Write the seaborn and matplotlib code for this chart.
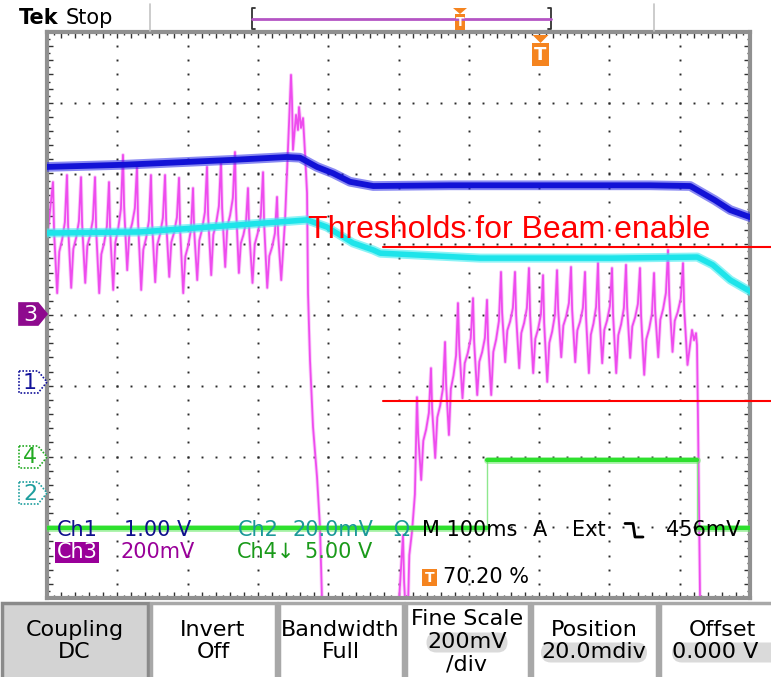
import numpy as np
import pandas as pd
import matplotlib
matplotlib.use("Agg")
import matplotlib.pyplot as plt
import seaborn as sns
from matplotlib.patches import Polygon, Rectangle, FancyBboxPatch
from matplotlib.ticker import FixedLocator

# ---------------- data (time in ms relative to trigger, 100 ms/div, trigger at 70.2 %) ----------------
T_LEFT, T_RIGHT = -702.0, 298.0

# Ch1 (1.00 V/div)
ch1_t = [-702, -594, -437, -361, -342, -318, -295, -271, -238, -129, 14, 156, 213, 227, 248, 270, 298]
ch1_v = [3.04, 3.07, 3.14, 3.18, 3.17, 3.04, 2.95, 2.83, 2.77, 2.78, 2.78, 2.78, 2.77, 2.69, 2.57, 2.43, 2.33]

# Ch2 (20.0 mV/div)
ch2_t = [-702, -570, -428, -332, -304, -267, -238, -228, -86, 103, 223, 245, 270, 298]
ch2_mv = [73.5, 73.8, 75.8, 77.2, 75.2, 70.7, 68.7, 67.8, 66.4, 66.4, 66.7, 64.5, 60.2, 57.0]

# Ch4 (5.00 V/div, inverted)
ch4_t = [-702, -76, -76, 223, 223, 298]
ch4_v = [-5.02, -5.02, -0.21, -0.21, -5.02, -5.02]
ch4_seg = [0, 0, 1, 1, 2, 2]

# Ch3 (200 mV/div): sawtooth ripple read tooth by tooth
m_start_t, m_start_mv = -702, 209
m_left_t = [-693.5, -673.6, -653.6, -633.7, -613.8, -593.9, -574.0, -554.1, -534.1, -514.2,
            -494.3, -474.4, -454.5, -434.6, -416.1, -394.7, -374.8]
m_left_hi = [373, 393, 387, 387, 373, 450, 416, 393, 393, 385, 356, 416, 435, 458, 356, 401, 331]
m_left_lo = [59, 74, 88, 59, 68, 124, 68, 90, 105, 59, 96, 110, 133, 116, 88, 74, 96]

m_spike_t = [-363.4, -359.2, -354.9, -353.5, -352.1, -347.8, -345.0, -343.5, -340.7, -337.8, -335.0,
             -332.1, -330.7, -327.9, -323.6, -317.9, -313.7, -310.8, -308.0, -300.0, -210.0]
m_spike_mv = [266, 472, 676, 605, 464, 563, 520, 585, 526, 554, 455,
              342, 59, -130, -319, -461, -602, -809, -1035, -1100, -1100]

m_right_t = [-195.6, -175.7, -155.8, -135.8, -117.4, -96.0, -76.1, -56.2, -36.3, -16.4, 3.6,
             23.5, 43.4, 63.3, 81.8, 101.7, 121.6, 141.5, 161.5, 181.4, 202.7]
m_right_hi = [-625, -235, -153, -79, 31, 45, 40, 119, 119, 130, 110, 124, 133, 119, 144, 130, 139, 130, 116, 181, 144]
m_right_lo = [-922, -469, -407, -342, -238, -229, -229, -136, -153, -167, -192, -122, -136, -167, -139,
              -167, -124, -172, -122, -107, -144]

m_tail_t = [215.5, 218.4, 221.2, 222.6, 224.0, 226.9, 229.7, 298.0]
m_tail_mv = [-45, -74, -54, -88, -291, -800, -1091, -1100]

# tooth shape (phase within a period, fraction of swing)
tooth_drop_phase = [0.08, 0.30]
tooth_drop_frac = [0.55, 0.0]
tooth_rise_phase = [0.45, 0.65, 0.85]
tooth_rise_frac = [0.35, 0.45, 0.60]

# thresholds for beam enable on Ch3 (mV) and where the marker lines start (ms)
thr_mv = [189, -246]
thr_t0 = -224

# channel settings: scale per div and ground position (div from centre)
ch_scale = {"Ch1": 1.0, "Ch2": 20.0, "Ch3": 200.0, "Ch4": 5.0}
ch_ground = {"Ch1": -0.947, "Ch2": -2.516, "Ch3": 0.014, "Ch4": -2.007}


def to_div(vals, ch):
    return np.asarray(vals, dtype=float) / ch_scale[ch] + ch_ground[ch]


def build_teeth(pt, hi, lo):
    ts, vs = [], []
    n = len(pt)
    for i in range(n):
        p = (pt[i + 1] - pt[i]) if i + 1 < n else (pt[i] - pt[i - 1])
        ts.append(pt[i]); vs.append(hi[i])
        for ph, fr in zip(tooth_drop_phase, tooth_drop_frac):
            ts.append(pt[i] + ph * p); vs.append(lo[i] + fr * (hi[i] - lo[i]))
        if i + 1 < n:
            for ph, fr in zip(tooth_rise_phase, tooth_rise_frac):
                ts.append(pt[i] + ph * p); vs.append(lo[i] + fr * (hi[i + 1] - lo[i]))
    return ts, vs


lt, lv = build_teeth(m_left_t, m_left_hi, m_left_lo)
rt, rv = build_teeth(m_right_t, m_right_hi, m_right_lo)
ch3_t = [m_start_t] + lt + m_spike_t + rt + m_tail_t
ch3_mv = [m_start_mv] + lv + m_spike_mv + rv + m_tail_mv

# ---------------- figure ----------------
sns.set_style("white")
plt.rcParams["font.family"] = ["DejaVu Sans"]
W, H = 771, 677
L, R, T, B = 47, 750, 32, 598
fig = plt.figure(figsize=(W / 100, H / 100), dpi=100)
fig.patch.set_facecolor("white")
ax = fig.add_axes([L / W, 1 - B / H, (R - L) / W, (B - T) / H])
ax.set_xlim(T_LEFT, T_RIGHT)
ax.set_ylim(-4, 4)

# graticule dots
ys = np.arange(-4, 4.001, 0.2)
for k in range(1, 10):
    ax.plot(np.full_like(ys, T_LEFT + 100 * k), ys, ls="none", marker="s", ms=1.4, mew=0,
            color="#2a2a2a", zorder=1)
xs = np.arange(T_LEFT, T_RIGHT + 0.1, 20)
for k in range(-3, 4):
    ax.plot(xs, np.full_like(xs, k), ls="none", marker="s", ms=1.4, mew=0, color="#2a2a2a", zorder=1)

# traces
df3 = pd.DataFrame({"t": ch3_t, "y": to_div(ch3_mv, "Ch3")})
sns.lineplot(data=df3, x="t", y="y", estimator=None, sort=False, color="#f26af2", lw=2.6,
             alpha=0.35, ax=ax, zorder=2)
sns.lineplot(data=df3, x="t", y="y", estimator=None, sort=False, color="#ee4cee", lw=1.3, ax=ax, zorder=2)

df2 = pd.DataFrame({"t": ch2_t, "y": to_div(ch2_mv, "Ch2")})
sns.lineplot(data=df2, x="t", y="y", estimator=None, sort=False, color="#40ecf0", lw=6.5,
             alpha=0.6, ax=ax, zorder=3)
sns.lineplot(data=df2, x="t", y="y", estimator=None, sort=False, color="#1ee4ea", lw=4, ax=ax, zorder=3)

df1 = pd.DataFrame({"t": ch1_t, "y": to_div(ch1_v, "Ch1")})
sns.lineplot(data=df1, x="t", y="y", estimator=None, sort=False, color="#2a2ae8", lw=7,
             alpha=0.55, ax=ax, zorder=3)
sns.lineplot(data=df1, x="t", y="y", estimator=None, sort=False, color="#1212d6", lw=4.2, ax=ax, zorder=3)

df4 = pd.DataFrame({"t": ch4_t, "y": to_div(ch4_v, "Ch4"), "seg": ch4_seg})
sns.lineplot(data=df4, x="t", y="y", estimator=None, sort=False, color="#8ee88e", lw=1.0, ax=ax, zorder=4)
sns.lineplot(data=df4, x="t", y="y", units="seg", estimator=None, sort=False, color="#5ee85e", lw=5,
             alpha=0.5, ax=ax, zorder=4)
sns.lineplot(data=df4, x="t", y="y", units="seg", estimator=None, sort=False, color="#2ee02e", lw=3,
             ax=ax, zorder=4)

# threshold markers
for v in thr_mv:
    yv = to_div([v], "Ch3")[0]
    ax.plot([thr_t0, T_RIGHT + 32], [yv, yv], color="#ff0000", lw=1.5, clip_on=False, zorder=6)

ax.set_xlabel(""); ax.set_ylabel("")
ax.xaxis.set_major_locator(FixedLocator(np.arange(T_LEFT, T_RIGHT + 0.1, 20)))
ax.xaxis.set_minor_locator(FixedLocator(np.arange(T_LEFT + 10, T_RIGHT, 20)))
ax.yaxis.set_major_locator(FixedLocator(np.arange(-4, 4.001, 0.2)))
ax.yaxis.set_minor_locator(FixedLocator(np.arange(-3.9, 4, 0.2)))
ax.tick_params(which="both", direction="in", top=True, right=True, bottom=True, left=True,
               labelbottom=False, labelleft=False, color="#333333", width=1)
ax.tick_params(which="major", length=4)
ax.tick_params(which="minor", length=2)
for s in ax.spines.values():
    s.set_color("#909090")
    s.set_linewidth(3)

# ---------------- overlay (pixel coordinates) ----------------
ov = fig.add_axes([0, 0, 1, 1])
ov.set_xlim(0, W); ov.set_ylim(H, 0); ov.axis("off")
ov.patch.set_alpha(0)

ov.text(308, 238, "Thresholds for Beam enable", color="#ff0000", fontsize=23,
        family=["Liberation Sans", "DejaVu Sans"], va="baseline", ha="left")

# top bar
ov.text(19, 18, "Tek", fontsize=15, fontweight="bold", va="center", ha="left", color="black")
ov.text(66, 18, "Stop", fontsize=15, va="center", ha="left", color="black")
ov.plot([150, 150], [4, 31], color="#c4c4c4", lw=1.2)
ov.plot([654, 654], [4, 31], color="#c4c4c4", lw=1.2)
ov.plot([255, 252, 252, 255], [8, 8, 29, 29], color="#333333", lw=1.3)
ov.plot([548, 551, 551, 548], [8, 8, 29, 29], color="#333333", lw=1.3)
ov.plot([252, 551], [19, 19], color="#b455c4", lw=2)
ORANGE = "#f5841f"
ov.add_patch(Polygon([(453, 8), (467, 8), (460, 14)], closed=True, fc=ORANGE, ec="none"))
ov.add_patch(Rectangle((455, 14), 10, 16, fc=ORANGE, ec="none"))
ov.text(460, 22.5, "T", color="white", fontsize=9, fontweight="bold", ha="center", va="center")
tx = 540.5
ov.add_patch(Polygon([(tx - 8, 35), (tx + 8, 35), (tx, 43)], closed=True, fc=ORANGE, ec="none"))
ov.add_patch(Rectangle((tx - 8.5, 43), 17, 23, fc=ORANGE, ec="none"))
ov.text(tx, 55, "T", color="white", fontsize=13, fontweight="bold", ha="center", va="center")

# channel tags at ground levels
tags = [("3", "Ch3", "#8e0a8e", True), ("1", "Ch1", "#12129a", False),
        ("4", "Ch4", "#22aa22", False), ("2", "Ch2", "#1e9e9e", False)]
for lab, ch, col, filled in tags:
    yc = 315 - ch_ground[ch] * 70.75
    pts = [(19, yc - 11), (38, yc - 11), (47, yc), (38, yc + 11), (19, yc + 11)]
    ov.add_patch(Polygon(pts, closed=True, fc=col if filled else "white", ec=col, lw=1.2,
                         ls="-" if filled else (0, (1, 1))))
    ov.text(30, yc + 0.5, lab, color="white" if filled else col, fontsize=16,
            ha="center", va="center")

# readouts
FS = 15
NAVY, TEAL, PURP, GRN = "#10108c", "#1b9898", "#990099", "#1a9a1a"
ov.text(57, 530, "Ch1", color=NAVY, fontsize=FS, va="center")
ov.text(124, 530, "1.00 V", color=NAVY, fontsize=FS, va="center")
ov.text(238, 530, "Ch2", color=TEAL, fontsize=FS, va="center")
ov.text(292, 530, "20.0mV", color=TEAL, fontsize=FS, va="center")
ov.text(393, 530, "Ω", color=TEAL, fontsize=FS, va="center")
ov.text(422, 530, "M 100ms", color="black", fontsize=FS, va="center")
ov.text(533, 530, "A", color="black", fontsize=FS, va="center")
ov.text(572, 530, "Ext", color="black", fontsize=FS, va="center")
ov.plot([625, 633, 635, 643], [523.5, 523.5, 537, 537], color="black", lw=2)
ov.text(666, 530, "456mV", color="black", fontsize=FS, va="center")
ov.add_patch(Rectangle((55, 542), 44, 21, fc=PURP, ec="none"))
ov.text(77, 552.5, "Ch3", color="white", fontsize=FS, va="center", ha="center")
ov.text(120, 552, "200mV", color=PURP, fontsize=FS, va="center")
ov.text(237, 552, "Ch4↓", color=GRN, fontsize=FS, va="center")
ov.text(305, 552, "5.00 V", color=GRN, fontsize=FS, va="center")
ov.add_patch(Rectangle((422, 569), 15, 17, fc=ORANGE, ec="none"))
ov.text(429.5, 577.5, "T", color="white", fontsize=10, fontweight="bold", va="center", ha="center")
ov.text(443, 577, "70.20 %", color="black", fontsize=FS, va="center")

# bottom menu
menu = [(0, 149, "#d3d3d3", ["Coupling", "DC"], None),
        (149, 277, "white", ["Invert", "Off"], None),
        (277, 404, "white", ["Bandwidth", "Full"], None),
        (404, 530, "white", ["Fine Scale", "200mV", "/div"], 1),
        (530, 658, "white", ["Position", "20.0mdiv"], 1),
        (658, 800, "white", ["Offset", "0.000 V"], 1)]
MFS = 16
for x0, x1, fc, lines, pill in menu:
    ec = "#8a8a8a" if x0 == 0 else "#a8a8a8"
    ov.add_patch(Rectangle((x0 + 1.5, 603), x1 - x0 - 3, 80, fc=fc, ec=ec, lw=2.5))
    cx = (x0 + x1) / 2
    if len(lines) == 3:
        ys_txt = [619, 642, 664]
    else:
        ys_txt = [630, 652]
    if x0 == 658:
        cx = 722
    for i, (txt, yy) in enumerate(zip(lines, ys_txt)):
        if pill == i:
            pw = 97 if len(lines) == 3 else 122
            px0 = cx - pw / 2
            if x0 == 658:
                px0 = 664; pw = 130
            ov.add_patch(FancyBboxPatch((px0 + 8, yy - 9.5), pw - 16, 20,
                                        boxstyle="round,pad=0,rounding_size=10",
                                        fc="#dadada", ec="none"))
            tcx = px0 + pw / 2 if x0 != 658 else 672
            ov.text(tcx, yy, txt, fontsize=MFS, ha="center" if x0 != 658 else "left",
                    va="center", color="black")
        else:
            ov.text(cx, yy, txt, fontsize=MFS, ha="center", va="center", color="black")

fig.savefig("out.png", dpi=100, facecolor="white")
